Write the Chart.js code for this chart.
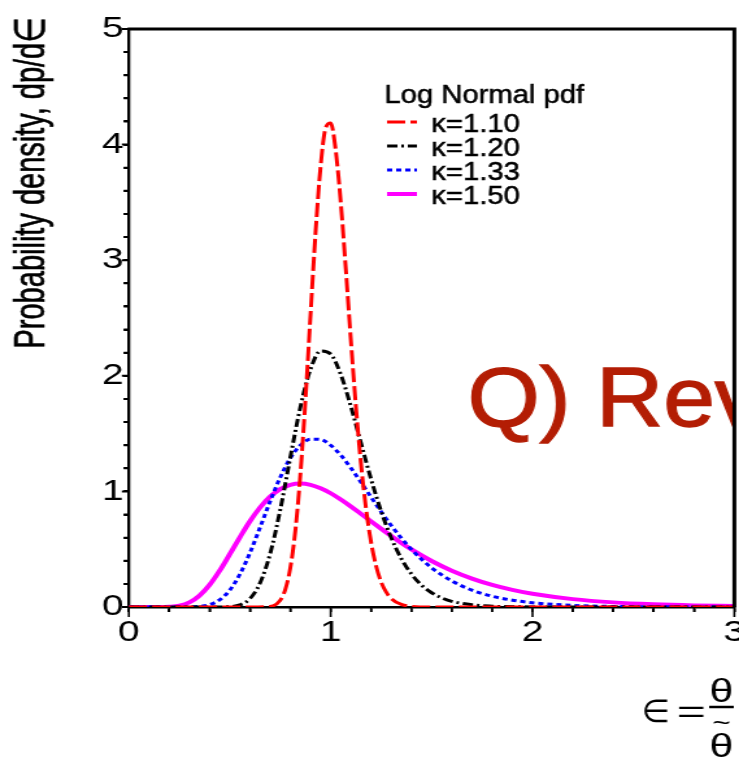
<!DOCTYPE html>
<html>
<head>
<meta charset="utf-8">
<script src="https://cdn.jsdelivr.net/npm/chart.js@4.4.1/dist/chart.umd.min.js"></script>
<style>
html, body { margin: 0; padding: 0; background: #fff; overflow: hidden; }
/* the plot is laid out narrow and widened sideways, like the exported figure */
#wrap { width: 569px; height: 758px; transform: scaleX(1.2988); transform-origin: 0 0; }
</style>
</head>
<body>
<div id="wrap"><canvas id="canvas" width="569" height="758"></canvas></div>
<script>
// log normal pdf, dp/de against e, one curve per kappa
var eK110 = [0, 0.6, 0.7, 0.75, 0.775, 0.8, 0.825, 0.85, 0.875, 0.9, 0.925, 0.95, 0.975, 1.0, 1.025, 1.05, 1.075, 1.1, 1.125, 1.15, 1.175, 1.2, 1.225, 1.25, 1.275, 1.3, 1.35, 1.4, 1.5, 3.0];
var pK110 = [0, 0, 0.005, 0.059, 0.151, 0.338, 0.662, 1.151, 1.793, 2.525, 3.239, 3.812, 4.144, 4.186, 3.949, 3.497, 2.920, 2.308, 1.734, 1.242, 0.851, 0.560, 0.354, 0.216, 0.128, 0.073, 0.022, 0.006, 0, 0];

var eK120 = [0, 0.4, 0.45, 0.5, 0.55, 0.6, 0.65, 0.7, 0.75, 0.8, 0.85, 0.9, 0.95, 1.0, 1.05, 1.1, 1.15, 1.2, 1.25, 1.3, 1.35, 1.4, 1.45, 1.5, 1.55, 1.6, 1.7, 1.8, 1.9, 2.0, 3.0];
var pK120 = [0, 0, 0.0003, 0.003, 0.018, 0.072, 0.207, 0.461, 0.840, 1.293, 1.730, 2.057, 2.214, 2.188, 2.011, 1.735, 1.418, 1.106, 0.828, 0.598, 0.418, 0.285, 0.189, 0.123, 0.079, 0.049, 0.019, 0.007, 0.002, 0.001, 0];

var eK133 = [0, 0.25, 0.3, 0.35, 0.4, 0.45, 0.5, 0.55, 0.6, 0.65, 0.7, 0.75, 0.8, 0.85, 0.9, 0.95, 1.0, 1.05, 1.1, 1.15, 1.2, 1.25, 1.3, 1.35, 1.4, 1.45, 1.5, 1.6, 1.7, 1.8, 1.9, 2.0, 2.2, 2.4, 2.6, 2.8, 3.0];
var pK133 = [0, 0, 0.001, 0.005, 0.020, 0.062, 0.146, 0.283, 0.469, 0.688, 0.914, 1.121, 1.288, 1.399, 1.452, 1.449, 1.399, 1.313, 1.203, 1.079, 0.950, 0.824, 0.705, 0.596, 0.498, 0.413, 0.339, 0.225, 0.146, 0.093, 0.059, 0.037, 0.014, 0.005, 0.002, 0.001, 0];

var eK150 = [0, 0.15, 0.2, 0.25, 0.3, 0.35, 0.4, 0.45, 0.5, 0.55, 0.6, 0.65, 0.7, 0.75, 0.8, 0.85, 0.9, 0.95, 1.0, 1.05, 1.1, 1.15, 1.2, 1.25, 1.3, 1.35, 1.4, 1.5, 1.6, 1.7, 1.8, 1.9, 2.0, 2.2, 2.4, 2.6, 2.8, 3.0];
var pK150 = [0, 0, 0.002, 0.011, 0.040, 0.099, 0.191, 0.314, 0.457, 0.603, 0.742, 0.861, 0.955, 1.020, 1.057, 1.068, 1.057, 1.027, 0.984, 0.930, 0.870, 0.806, 0.741, 0.677, 0.614, 0.554, 0.498, 0.398, 0.314, 0.246, 0.191, 0.148, 0.114, 0.068, 0.040, 0.024, 0.014, 0.008];

var kappaLabels = ['κ=1.10', 'κ=1.20', 'κ=1.33', 'κ=1.50'];
var legendTitle = 'Log Normal pdf';
var yTitle = 'Probability density, dp/d∈';
var note = 'Q) Rev';
var minorStep = 0.2;

var FONT = '"Liberation Sans", Arial, Helvetica, "DejaVu Sans", sans-serif';

function pts(xs, ys) {
    return xs.map(function(x, i) { return { x: x, y: ys[i] }; });
}

// fill plus a thin outline, a touch heavier than plain fillText
function heavyText(ctx, s, x, y, w) {
    ctx.fillText(s, x, y);
    ctx.lineWidth = w;
    ctx.strokeText(s, x, y);
}

var extras = {
    id: 'extras',
    afterDatasetsDraw: function(chart) {
        var ctx = chart.ctx, a = chart.chartArea;
        ctx.save();
        ctx.beginPath();
        ctx.rect(a.left, a.top, a.right - a.left, a.bottom - a.top);
        ctx.clip();
        ctx.translate(360, 426);
        ctx.scale(0.86, 1);
        ctx.fillStyle = '#b31d04';
        ctx.strokeStyle = '#b31d04';
        ctx.font = '83px ' + FONT;
        ctx.textBaseline = 'alphabetic';
        heavyText(ctx, note, 0, 0, 1.4);
        ctx.restore();
    },
    afterDraw: function(chart) {
        var ctx = chart.ctx, a = chart.chartArea;
        var xs = chart.scales.x, ys = chart.scales.y;
        var n, k, v, px, py;
        ctx.save();
        ctx.strokeStyle = '#000';
        ctx.setLineDash([]);

        // top and right frame
        ctx.lineWidth = 3;
        ctx.beginPath();
        ctx.moveTo(a.left - 1, a.top);
        ctx.lineTo(a.right, a.top);
        ctx.lineTo(a.right, a.bottom);
        ctx.stroke();

        // tick marks, every 0.2 and longer on the whole numbers
        ctx.lineWidth = 1.6;
        ctx.beginPath();
        n = Math.round((xs.max - xs.min) / minorStep);
        for (k = 0; k <= n; k++) {
            v = xs.min + k * minorStep;
            px = xs.getPixelForValue(v);
            ctx.moveTo(px, a.bottom);
            ctx.lineTo(px, a.bottom + (k % 5 === 0 ? 10 : 5));
        }
        ctx.stroke();
        ctx.lineWidth = 2;
        ctx.beginPath();
        n = Math.round((ys.max - ys.min) / minorStep);
        for (k = 0; k <= n; k++) {
            v = ys.min + k * minorStep;
            py = ys.getPixelForValue(v);
            ctx.moveTo(a.left - (k % 5 === 0 ? 5.4 : 4), py);
            ctx.lineTo(a.left, py);
        }
        ctx.stroke();

        // legend
        ctx.fillStyle = '#000';
        ctx.font = '25px ' + FONT;
        ctx.textBaseline = 'alphabetic';
        ctx.save();
        ctx.translate(296, 103);
        ctx.scale(0.9, 1);
        heavyText(ctx, legendTitle, 0, 0, 0.5);
        ctx.restore();
        chart.data.datasets.forEach(function(ds, i) {
            var y = 122 + i * 24;
            ctx.strokeStyle = ds.borderColor;
            ctx.lineWidth = ds.borderWidth;
            ctx.setLineDash(ds.borderDash || []);
            ctx.beginPath();
            ctx.moveTo(298, y);
            ctx.lineTo(321, y);
            ctx.stroke();
            ctx.setLineDash([]);
            ctx.strokeStyle = '#000';
            ctx.save();
            ctx.translate(332, y + 10);
            ctx.scale(0.9, 1);
            heavyText(ctx, ds.label, 0, 0, 0.5);
            ctx.restore();
        });

        // y axis title, glyphs a little taller across
        ctx.save();
        ctx.translate(34, 183);
        ctx.rotate(-Math.PI / 2);
        ctx.scale(1, 1.12);
        ctx.font = '29px ' + FONT;
        ctx.textAlign = 'center';
        heavyText(ctx, yTitle, 0, 0, 0.5);
        ctx.restore();

        // x axis title: e = theta / theta~
        ctx.textAlign = 'left';
        ctx.font = '32px ' + FONT;
        ctx.save();
        ctx.translate(494, 722);
        ctx.scale(0.78, 1);
        ctx.fillText('∈', 0, 0);
        ctx.restore();
        ctx.save();
        ctx.translate(521, 722);
        ctx.scale(1.2, 1);
        ctx.fillText('=', 0, 0);
        ctx.restore();
        ctx.textAlign = 'center';
        ctx.font = '33px ' + FONT;
        ctx.fillText('θ', 555.5, 702);
        ctx.fillText('θ', 555.5, 757);
        ctx.font = '24px ' + FONT;
        ctx.fillText('~', 555.5, 731);
        ctx.lineWidth = 2.5;
        ctx.strokeStyle = '#000';
        ctx.beginPath();
        ctx.moveTo(546, 707);
        ctx.lineTo(565, 707);
        ctx.stroke();
        ctx.restore();
    }
};

function wholeOnly(v) {
    var r = Math.round(v);
    return Math.abs(v - r) < 1e-6 ? String(r) : '';
}

var ctx = document.getElementById('canvas').getContext('2d');
var myChart = new Chart(ctx, {
    type: 'line',
    data: {
        datasets: [{
            label: kappaLabels[0],
            data: pts(eK110, pK110),
            borderColor: '#ff0000',
            borderWidth: 3,
            borderDash: [14, 4]
        },
        {
            label: kappaLabels[1],
            data: pts(eK120, pK120),
            borderColor: '#000000',
            borderWidth: 3,
            borderDash: [8, 3, 2, 3]
        },
        {
            label: kappaLabels[2],
            data: pts(eK133, pK133),
            borderColor: '#0000ff',
            borderWidth: 3,
            borderDash: [4, 3]
        },
        {
            label: kappaLabels[3],
            data: pts(eK150, pK150),
            borderColor: '#ff00ff',
            borderWidth: 4
        }]
    },
    options: {
        responsive: false,
        animation: false,
        layout: { padding: { top: 29, right: 3.6, left: 0, bottom: 0 } },
        plugins: {
            legend: { display: false },
            tooltip: { enabled: false }
        },
        elements: {
            point: { radius: 0 },
            line: { cubicInterpolationMode: 'monotone', fill: false }
        },
        scales: {
            x: {
                type: 'linear',
                min: 0,
                max: 3,
                grid: { drawOnChartArea: false, tickLength: 5, color: '#000', lineWidth: 1.6 },
                border: { color: '#000', width: 2.5 },
                ticks: {
                    stepSize: minorStep,
                    autoSkip: false,
                    maxRotation: 0,
                    padding: 3,
                    color: '#000',
                    font: { family: FONT, size: 30 },
                    callback: wholeOnly
                },
                afterFit: function(s) {
                    s.height = 151;
                    s.paddingLeft = 0;
                    s.paddingRight = 0;
                }
            },
            y: {
                type: 'linear',
                min: 0,
                max: 5,
                grid: { drawOnChartArea: false, tickLength: 4, color: '#000', lineWidth: 2 },
                border: { color: '#000', width: 2.3 },
                ticks: {
                    stepSize: minorStep,
                    autoSkip: false,
                    padding: 0,
                    color: '#000',
                    font: { family: FONT, size: 30 },
                    callback: wholeOnly
                },
                afterFit: function(s) {
                    s.width = 99.2;
                    s.paddingTop = 0;
                    s.paddingBottom = 0;
                }
            }
        }
    },
    plugins: [extras]
});
</script>
</body>
</html>
